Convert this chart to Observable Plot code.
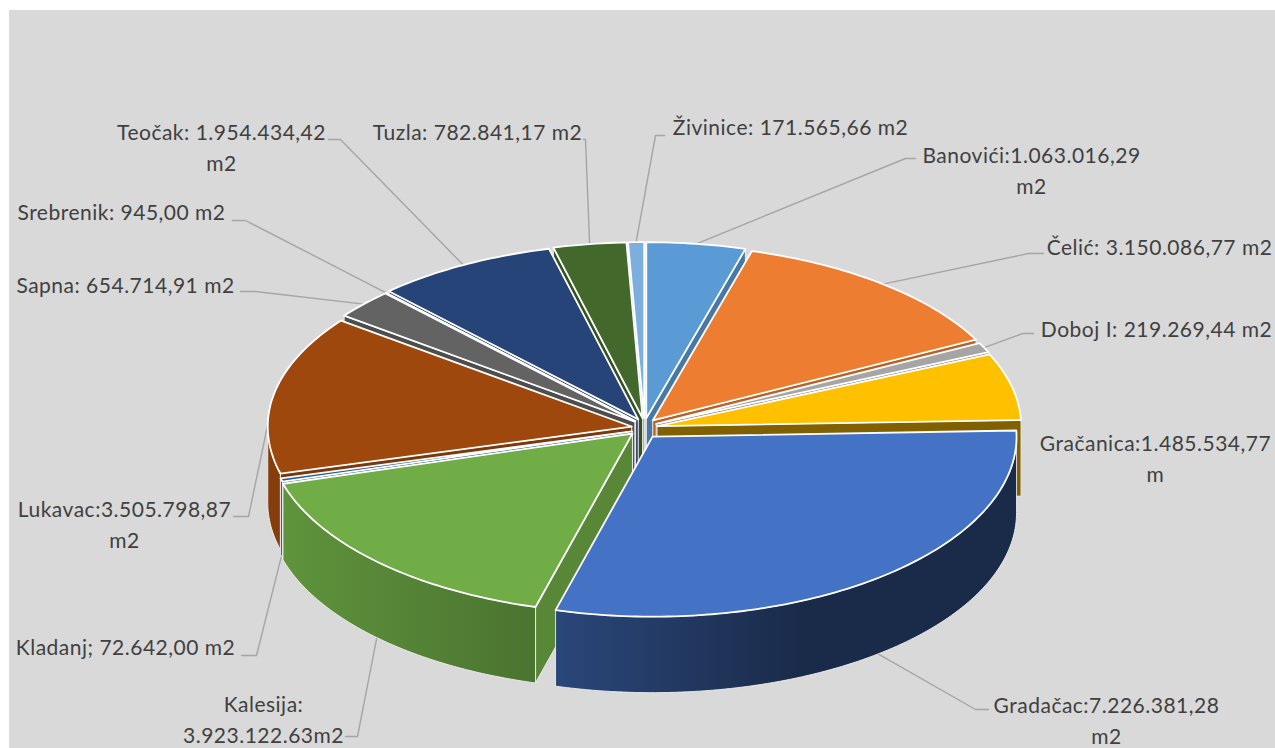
<!DOCTYPE html>
<html><head><meta charset="utf-8">
<script src="https://cdn.jsdelivr.net/npm/d3@7"></script>
<script src="https://cdn.jsdelivr.net/npm/@observablehq/plot@0.6"></script>
<style>html,body{margin:0;background:#fff}</style>
</head><body><div id="chart"></div>
<script>
const names = ["Banovići","Čelić","Doboj I","Gračanica","Gradačac","Kalesija","Kladanj","Lukavac","Sapna","Srebrenik","Teočak","Tuzla","Živinice"];
const areas = [1063016.29,3150086.77,219269.44,1485534.77,7226381.28,3923122.63,72642.00,3505798.87,654714.91,945.00,1954434.42,782841.17,171565.66];
const colors = ["#5B9BD5","#ED7D31","#A5A5A5","#FFC000","#4472C4","#70AD47","#255E91","#9E480E","#636363","#997300","#264478","#43682B","#7CAFDD"];
const labels = [
  "Banovići:1.063.016,29\nm2","Čelić: 3.150.086,77 m2","Doboj I: 219.269,44 m2","Gračanica:1.485.534,77\nm",
  "Gradačac:7.226.381,28\nm2","Kalesija:\n3.923.122.63m2","Kladanj; 72.642,00 m2","Lukavac:3.505.798,87\nm2",
  "Sapna: 654.714,91 m2","Srebrenik: 945,00 m2","Teočak: 1.954.434,42\nm2","Tuzla: 782.841,17 m2","Živinice: 171.565,66 m2"];

// layout: label centre and first-line y, leader start / elbow x and y
const layout = {
  "Banovići":[1031,155,915,905,158],"Čelić":[1159,247,1043,1028,253],"Doboj I":[1156,329,1033,1022,333],
  "Gračanica":[1155,443,null,null,null],"Gradačac":[1106,705,988,975,709],"Kalesija":[263,704,345,357,736],
  "Kladanj":[125,647,241,256,655],"Lukavac":[124,509,233,248,516],"Sapna":[125,285,240,255,291],
  "Srebrenik":[121,212,232,245,220],"Teočak":[221,132,328,340,139],"Tuzla":[477,132,583,585,139],"Živinice":[790,127,664,655,135]};

const cx=644, cy=428, R=364, RYfar=176, RYnear=180, depth=76, ex=13, exK=0.8;
const explode = {"Kalesija":[-12,5]};
const arcs = d3.pie().sort(null).startAngle(0).endAngle(2*Math.PI)(areas);
const slices = arcs.map((a,i)=>{
  const mid=(a.startAngle+a.endAngle)/2, e=explode[names[i]];
  return {name:names[i],color:colors[i],a0:a.startAngle,a1:a.endAngle,mid,
    ax:cx+(e?e[0]:ex*Math.sin(mid)), ay:cy+(e?e[1]:-ex*exK*Math.cos(mid)), i};
});
const rim=(s,t)=>{const c=Math.cos(t);return [s.ax+R*Math.sin(t), s.ay-(c>0?RYfar:RYnear)*c];};
function arcPts(s,a0,a1){const n=Math.max(1,Math.ceil((a1-a0)/(Math.PI/180)));return d3.range(n+1).map(k=>rim(s,a0+(a1-a0)*k/n));}
const shade=(c,f)=>{const r=d3.rgb(c);return d3.rgb(r.r*f,r.g*f,r.b*f).formatHex();};

const rows=[]; let pid=0;
function poly(pts,fill,stroke,sw){pid++;[...pts,pts[0]].forEach(p=>rows.push({id:pid,x:p[0],y:p[1],fill,stroke,sw}));}
function face(s,t,normal){
  const r=rim(s,t);
  const frontal=Math.abs(normal-Math.PI)<0.2;
  poly([[s.ax,s.ay],r,[r[0],r[1]+depth],[s.ax,s.ay+depth]],shade(s.color,frontal?0.5:0.78),"#e6e6e6",frontal?0.8:1.1);
}
const order=slices.slice().sort((a,b)=>Math.cos(b.mid)-Math.cos(a.mid));
for(const s of order){
  if(Math.sin(s.a0)<0) face(s,s.a0,s.a0-Math.PI/2);
  if(Math.sin(s.a1)>0) face(s,s.a1,s.a1+Math.PI/2);
  const f0=Math.max(s.a0,Math.PI/2), f1=Math.min(s.a1,3*Math.PI/2);
  if(f1>f0){
    const top=arcPts(s,f0,f1);
    poly([...top,...top.slice().reverse().map(p=>[p[0],p[1]+depth])],`url(#wall${s.i})`,"#eeeeee",0.9);
  }
  poly([[s.ax,s.ay],...arcPts(s,s.a0,s.a1)],s.color,"#ffffff",1.8);
}

const stops=[[285,.85],[533,.67],[553,.62],[800,.38],[1020,.38]];
const defs=()=>{
  const d=d3.create("svg:defs");
  slices.forEach(s=>{
    const g=d.append("linearGradient").attr("id",`wall${s.i}`).attr("gradientUnits","userSpaceOnUse")
      .attr("x1",285).attr("x2",1020).attr("y1",0).attr("y2",0);
    stops.forEach(([x,f])=>g.append("stop").attr("offset",(x-285)/735).attr("stop-color",shade(s.color,f)));
  });
  return d.node();
};

const leaders=[];
slices.forEach(s=>{
  const l=layout[s.name]; if(l[2]==null) return;
  const r=rim(s,s.mid); const yEnd=Math.cos(s.mid)<0? r[1]+depth : r[1];
  [[l[2],l[4]],[l[3],l[4]],[r[0],yEnd]].forEach(p=>leaders.push({name:s.name,x:p[0],y:p[1]}));
});
const labelRows=names.map((n,i)=>({text:labels[i],x:layout[n][0],y:layout[n][1]-14}));
const bg=[{x1:9,x2:1275,y1:10,y2:748}];

const chart=Plot.plot({
  width:1275,height:748,margin:0,
  x:{axis:null,domain:[0,1275],range:[0,1275]},
  y:{axis:null,domain:[0,748],range:[0,748]},
  color:{type:"identity"},
  style:{fontFamily:"Lato",background:"#fff",letterSpacing:"0.5px"},
  marks:[
    defs,
    Plot.rect(bg,{x1:"x1",x2:"x2",y1:"y1",y2:"y2",fill:"#d9d9d9"}),
    Plot.line(leaders,{x:"x",y:"y",z:"name",stroke:"#a5a5a5",strokeWidth:1.4}),
    Plot.line(rows,{x:"x",y:"y",z:"id",fill:"fill",stroke:"stroke",strokeWidth:"sw",strokeLinejoin:"round"}),
    Plot.text(labelRows,{x:"x",y:"y",text:"text",fontSize:21,lineHeight:1.47,lineAnchor:"top",textAnchor:"middle",fill:"#404040"})
  ]
});
document.getElementById("chart").append(chart);
</script>
</body></html>
